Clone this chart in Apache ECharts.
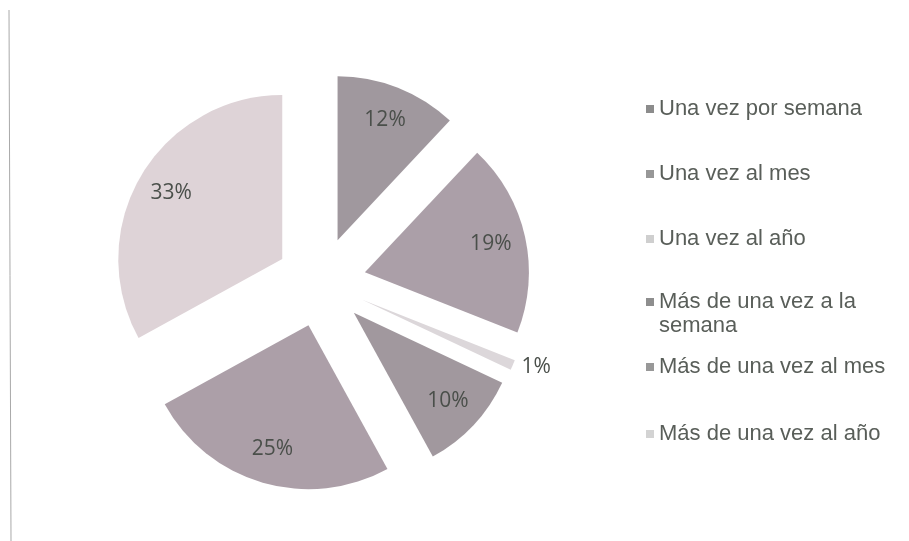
<!DOCTYPE html>
<html>
<head>
<meta charset="utf-8">
<script src="https://cdn.jsdelivr.net/npm/echarts@6/dist/echarts.min.js"></script>
<style>
  html, body { margin: 0; padding: 0; background: #ffffff; }
  #chart { width: 909px; height: 541px; }
</style>
</head>
<body>
<div id="chart"></div>
<script>
// Frequency categories and their shares (%)
const categories = [
  'Una vez por semana',
  'Una vez al mes',
  'Una vez al año',
  'Más de una vez a la semana',
  'Más de una vez al mes',
  'Más de una vez al año'
];
const values = [12, 19, 1, 10, 25, 33];

// Slice fills and legend swatch fills
const sliceColors = ['#a0989e', '#ab9fa8', '#dcd7da', '#a1989e', '#ac9fa8', '#ded3d7'];
const swatchColors = ['#8c8c8c', '#979797', '#cfcfcf', '#8e8e8e', '#989898', '#d3d3d3'];

const center = [321, 282];
const outerR = 164;
const explode = 45;
const legendLine = 24;

const chart = echarts.init(document.getElementById('chart'), null, { renderer: 'canvas' });

const sliceData = categories.map((name, i) => ({
  name,
  value: values[i],
  selected: true,
  itemStyle: { color: sliceColors[i] }
}));

// Transparent ring carrying the percentage labels further out on each slice
const labelData = categories.map((name, i) => {
  const item = {
    name,
    value: values[i],
    selected: true,
    itemStyle: { color: 'rgba(0,0,0,0)' }
  };
  if (values[i] < 3) {
    item.label = { position: 'outside', distanceToLabelLine: 5 };
    item.labelLine = { show: false, length: 4, length2: 0 };
  }
  return item;
});

const legendText = {
  fontFamily: 'Liberation Sans, Arial, sans-serif',
  fontSize: 22,
  color: '#595e59',
  lineHeight: legendLine
};

function legendBlock(idx, top, gap, extra) {
  return Object.assign({
    orient: 'vertical',
    left: 646,
    top,
    padding: 0,
    itemWidth: 8,
    itemHeight: 8,
    itemGap: gap,
    icon: 'rect',
    selectedMode: false,
    textStyle: legendText,
    data: idx.map(i => ({ name: categories[i], itemStyle: { color: swatchColors[i] } }))
  }, extra || {});
}

chart.setOption({
  animation: false,
  backgroundColor: '#ffffff',
  legend: [
    legendBlock([0, 1, 2], 97, 41),
    // wrapped entry: leading blank line keeps the swatch beside the first line
    legendBlock([3], 266, 0, {
      formatter: name => '\n' + name,
      textStyle: Object.assign({}, legendText, { width: 225, overflow: 'break' })
    }),
    legendBlock([4, 5], 355, 43)
  ],
  series: [
    {
      type: 'pie',
      center,
      radius: [0, outerR],
      startAngle: 90,
      clockwise: true,
      selectedMode: 'multiple',
      selectedOffset: explode,
      avoidLabelOverlap: false,
      label: { show: false },
      labelLine: { show: false },
      emphasis: { disabled: true },
      silent: true,
      data: sliceData
    },
    {
      type: 'pie',
      center,
      radius: [88, outerR],
      startAngle: 90,
      clockwise: true,
      selectedMode: 'multiple',
      selectedOffset: explode,
      avoidLabelOverlap: false,
      silent: true,
      emphasis: { disabled: true },
      label: {
        show: true,
        position: 'inside',
        formatter: '{c}%',
        fontFamily: 'Open Sans, Liberation Sans, sans-serif',
        fontSize: 21,
        color: '#4a4f4a'
      },
      labelLine: { show: false },
      data: labelData
    }
  ],
  graphic: [
    {
      type: 'line',
      shape: { x1: 9, y1: 10, x2: 11, y2: 541 },
      style: { stroke: '#a9a9a9', lineWidth: 1 },
      silent: true
    }
  ]
});
</script>
</body>
</html>
